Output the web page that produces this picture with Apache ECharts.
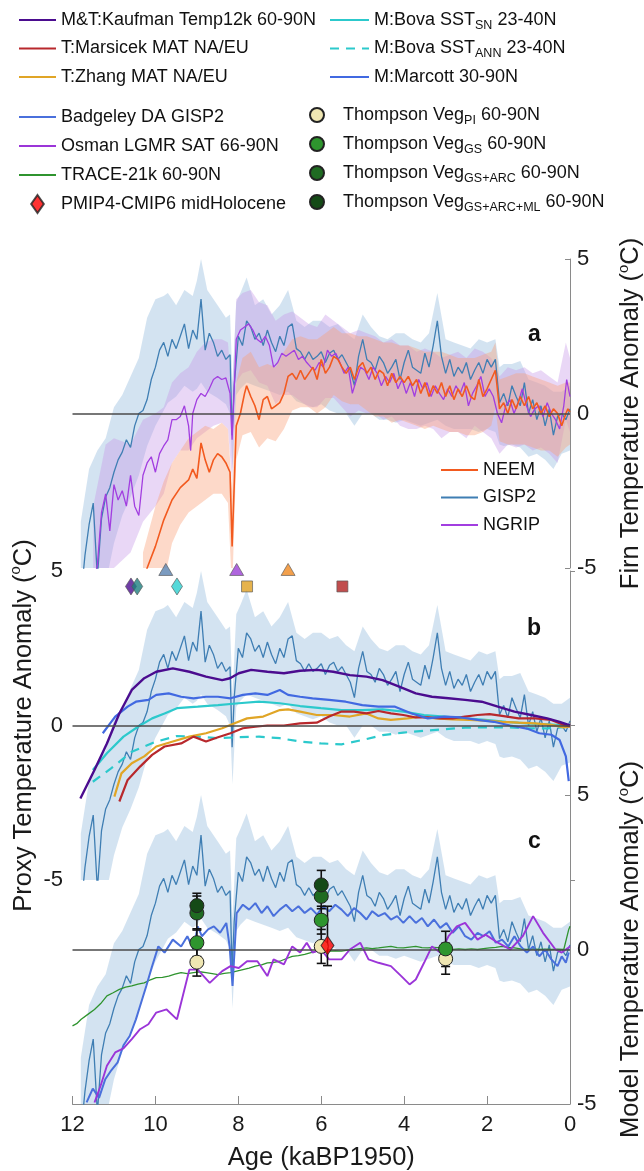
<!DOCTYPE html>
<html>
<head>
<meta charset="utf-8">
<script src="https://cdn.jsdelivr.net/npm/echarts@6/dist/echarts.min.js"></script>
<style>
  html, body { margin: 0; padding: 0; background: #ffffff; }
  #chart { width: 644px; height: 1171px; }
</style>
</head>
<body>
<div id="chart"></div>
<script>
// ---------- Ice-core firn temperature records, [age ka BP, anomaly degC] ----------
const gisp2 = [[11.8,-6.0],[11.7,-4.6],[11.6,-3.6],[11.5,-2.9],[11.4,-5.3],[11.3,-3.4],[11.2,-2.7],[11.1,-2.4],[11.0,-1.9],[10.9,-1.5],[10.8,-1.25],[10.7,-0.85],[10.6,-1.1],[10.5,-0.4],[10.4,0.0],[10.3,0.1],[10.2,0.45],[10.1,1.1],[10.0,1.5],[9.9,2.05],[9.8,2.3],[9.7,1.85],[9.6,2.4],[9.5,2.1],[9.4,2.5],[9.3,2.9],[9.2,2.1],[9.1,2.7],[9.0,2.4],[8.9,3.7],[8.8,2.05],[8.7,2.6],[8.6,2.3],[8.5,1.85],[8.4,2.05],[8.3,1.75],[8.2,1.9],[8.15,-0.7],[8.1,0.9],[8.0,2.5],[7.9,2.2],[7.8,3.0],[7.7,2.8],[7.6,2.4],[7.5,2.6],[7.4,2.2],[7.3,2.7],[7.2,2.3],[7.1,2.0],[7.0,2.5],[6.9,2.2],[6.8,2.8],[6.7,2.9],[6.6,2.1],[6.5,2.0],[6.4,1.75],[6.3,2.0],[6.2,1.75],[6.1,1.85],[6.0,2.0],[5.9,1.65],[5.8,1.95],[5.7,2.05],[5.6,1.75],[5.5,1.9],[5.4,1.65],[5.3,1.4],[5.2,0.9],[5.1,1.85],[5.0,2.4],[4.9,1.75],[4.8,1.65],[4.7,1.4],[4.6,1.85],[4.5,1.65],[4.4,1.3],[4.3,1.5],[4.2,1.75],[4.1,1.1],[4.0,1.65],[3.9,2.05],[3.8,1.5],[3.7,1.4],[3.6,1.3],[3.5,1.95],[3.4,1.5],[3.3,2.2],[3.2,3.0],[3.1,1.85],[3.0,1.3],[2.9,1.75],[2.8,1.2],[2.7,1.5],[2.6,1.3],[2.5,1.65],[2.4,1.1],[2.3,1.4],[2.2,1.65],[2.1,1.3],[2.0,1.75],[1.9,1.5],[1.8,1.75],[1.7,0.35],[1.6,0.65],[1.5,0.25],[1.4,0.9],[1.3,0.55],[1.2,0.25],[1.1,1.0],[1.0,0.0],[0.9,0.45],[0.8,-0.2],[0.7,0.25],[0.6,-0.4],[0.5,0.15],[0.4,-0.7],[0.3,-0.1],[0.2,0.0],[0.1,-0.2],[0.0,0.15]];

const neem = [[10.3,-5.6],[10.2,-5.0],[10.0,-4.3],[9.8,-3.45],[9.6,-2.8],[9.4,-2.4],[9.2,-2.15],[9.1,-1.8],[9.0,-2.1],[8.9,-0.95],[8.8,-1.5],[8.7,-1.9],[8.6,-1.5],[8.5,-1.3],[8.4,-1.4],[8.3,-1.6],[8.2,-1.9],[8.15,-4.3],[8.05,-0.4],[7.95,0.0],[7.85,0.65],[7.8,0.9],[7.7,0.55],[7.6,0.25],[7.5,-0.2],[7.4,0.45],[7.3,0.55],[7.2,0.15],[7.1,0.25],[7.0,0.35],[6.9,0.65],[6.8,1.2],[6.7,1.3],[6.6,1.1],[6.5,1.4],[6.4,1.1],[6.3,1.3],[6.2,1.5],[6.1,1.1],[6.0,1.75],[5.9,1.3],[5.8,1.5],[5.7,1.85],[5.6,1.75],[5.5,1.5],[5.4,1.3],[5.3,1.5],[5.2,1.1],[5.1,1.5],[5.0,1.65],[4.9,1.3],[4.8,1.5],[4.7,1.1],[4.6,1.4],[4.5,1.3],[4.4,0.9],[4.3,1.3],[4.2,1.0],[4.1,1.2],[4.0,1.0],[3.9,1.2],[3.8,0.9],[3.7,1.1],[3.6,0.65],[3.5,1.0],[3.4,0.55],[3.3,0.9],[3.2,0.65],[3.1,1.0],[3.0,0.55],[2.9,0.9],[2.8,0.45],[2.7,0.8],[2.6,0.55],[2.5,0.9],[2.4,0.55],[2.3,0.45],[2.2,1.1],[2.1,0.55],[2.0,0.8],[1.9,1.1],[1.8,1.4],[1.7,0.15],[1.6,0.35],[1.5,0.0],[1.4,0.45],[1.3,0.15],[1.2,0.55],[1.1,0.25],[1.0,0.55],[0.9,0.15],[0.8,0.35],[0.7,0.0],[0.6,0.25],[0.5,-0.1],[0.4,0.15],[0.3,0.0],[0.2,-0.4],[0.1,0.0],[0.05,0.15],[0.0,0.05]];

const ngrip = [[11.5,-5.5],[11.4,-4.9],[11.3,-3.2],[11.2,-2.6],[11.1,-3.8],[11.0,-2.3],[10.9,-2.8],[10.8,-2.5],[10.7,-3.0],[10.6,-2.0],[10.5,-3.0],[10.4,-3.3],[10.3,-2.0],[10.2,-1.6],[10.1,-1.4],[10.0,-1.9],[9.9,-1.3],[9.8,-1.05],[9.7,-0.85],[9.6,-0.2],[9.5,-0.2],[9.4,-0.1],[9.3,0.25],[9.2,-0.4],[9.15,-1.2],[9.1,0.0],[9.0,0.45],[8.9,0.65],[8.8,0.55],[8.7,0.8],[8.6,1.1],[8.5,1.2],[8.4,1.1],[8.3,1.15],[8.2,0.65],[8.15,-0.85],[8.05,2.4],[7.95,2.7],[7.85,2.8],[7.75,2.9],[7.65,2.7],[7.55,2.4],[7.45,2.3],[7.35,2.5],[7.25,2.2],[7.15,1.5],[7.05,1.65],[6.95,1.95],[6.85,1.85],[6.75,1.95],[6.65,2.05],[6.55,1.75],[6.45,1.85],[6.35,1.65],[6.25,1.5],[6.15,1.4],[6.05,1.65],[5.95,1.5],[5.85,2.05],[5.75,1.85],[5.65,1.95],[5.55,1.65],[5.45,1.3],[5.35,1.5],[5.25,0.65],[5.15,1.1],[5.05,1.5],[4.95,1.4],[4.85,1.1],[4.75,1.5],[4.65,1.3],[4.55,0.9],[4.45,1.2],[4.35,1.0],[4.25,1.3],[4.15,0.8],[4.05,1.1],[3.95,0.65],[3.85,1.0],[3.75,0.55],[3.65,1.1],[3.55,0.8],[3.45,1.0],[3.35,0.55],[3.25,0.9],[3.15,0.65],[3.05,0.45],[2.95,0.8],[2.85,0.55],[2.75,0.9],[2.65,0.65],[2.55,1.0],[2.45,0.25],[2.35,0.65],[2.25,0.9],[2.15,1.2],[2.05,0.55],[1.95,0.8],[1.85,0.55],[1.75,0.0],[1.65,-0.3],[1.55,0.25],[1.45,0.45],[1.35,0.0],[1.25,0.35],[1.15,0.8],[1.05,0.25],[0.95,-0.1],[0.85,0.15],[0.75,0.25],[0.65,-0.1],[0.55,0.35],[0.45,0.0],[0.35,-0.2],[0.25,-0.5],[0.15,0.25],[0.08,1.1],[0.0,0.55]];

// uncertainty envelopes, [age, upper, lower]
const gisp2Band = [[11.8,-3.5,-6],[11.6,-1.8,-6],[11.4,-1.2,-6],[11.2,-0.8,-5.5],[11.0,0.2,-4.2],[10.8,0.6,-3.3],[10.6,1.2,-2.7],[10.4,1.8,-2.0],[10.2,3.1,-1.05],[10.0,3.7,-0.4],[9.8,3.8,0.1],[9.7,3.9,0.35],[9.5,3.5,0.55],[9.3,4.0,0.9],[9.1,3.8,0.7],[9.0,4.3,0.8],[8.9,5.0,1.0],[8.75,4.0,0.7],[8.5,3.5,0.5],[8.3,3.1,0.3],[8.2,3.2,0.0],[8.14,1.0,-1.9],[8.05,3.6,0.6],[7.95,3.9,0.8],[7.8,4.4,1.0],[7.6,3.5,0.9],[7.4,3.7,0.8],[7.2,3.2,0.7],[7.0,3.5,0.6],[6.8,4.0,0.7],[6.6,3.0,0.4],[6.4,2.8,0.3],[6.2,3.0,0.2],[6.0,3.0,0.3],[5.8,2.8,0.1],[5.6,2.9,0.0],[5.4,2.6,0.0],[5.2,2.4,-0.4],[5.0,3.2,0.0],[4.8,2.8,0.0],[4.6,2.5,-0.2],[4.4,2.4,-0.2],[4.2,2.6,-0.3],[4.0,2.6,-0.2],[3.8,2.4,-0.3],[3.6,2.3,-0.4],[3.4,2.6,-0.3],[3.2,3.9,-0.2],[3.0,2.4,-0.4],[2.8,2.3,-0.5],[2.6,2.2,-0.5],[2.4,2.1,-0.5],[2.2,2.4,-0.6],[2.0,2.3,-0.5],[1.8,2.4,-0.6],[1.7,1.5,-1.0],[1.6,1.6,-1.05],[1.4,1.6,-1.0],[1.2,1.7,-1.1],[1.0,1.1,-1.4],[0.8,1.0,-1.3],[0.6,0.9,-1.5],[0.4,0.7,-1.8],[0.2,0.7,-1.3],[0.0,0.9,-1.2]];

const neemBand = [[10.3,-4.5,-6],[10.0,-3.0,-6],[9.8,-2.2,-5.5],[9.6,-1.6,-4.2],[9.4,-1.2,-3.6],[9.2,-0.8,-3.2],[9.0,-0.6,-3.0],[8.8,-0.4,-2.8],[8.6,-0.5,-2.6],[8.4,-0.3,-2.6],[8.25,-0.5,-2.9],[8.15,-2.5,-5.8],[8.05,1.0,-1.5],[7.9,1.8,-0.7],[7.7,2.0,-0.6],[7.5,1.5,-1.1],[7.3,1.6,-0.8],[7.1,1.5,-0.9],[6.9,2.0,-0.5],[6.7,2.4,0.1],[6.5,2.5,0.2],[6.3,2.4,0.2],[6.1,2.4,0.0],[5.9,2.6,0.2],[5.7,2.8,0.6],[5.5,2.6,0.4],[5.3,2.6,0.3],[5.1,2.5,0.3],[4.9,2.5,0.1],[4.7,2.4,-0.1],[4.5,2.3,-0.1],[4.3,2.3,-0.3],[4.1,2.2,-0.2],[3.9,2.2,-0.3],[3.7,2.1,-0.4],[3.5,2.0,-0.5],[3.3,2.0,-0.4],[3.1,2.0,-0.5],[2.9,1.9,-0.6],[2.7,1.8,-0.6],[2.5,1.8,-0.7],[2.3,1.8,-0.7],[2.1,1.9,-0.6],[1.9,2.0,-0.4],[1.8,2.3,0.2],[1.7,1.1,-0.9],[1.5,1.2,-1.0],[1.3,1.3,-1.0],[1.1,1.3,-1.0],[0.9,1.2,-1.1],[0.7,1.1,-1.2],[0.5,1.0,-1.2],[0.3,0.9,-1.4],[0.1,1.0,-1.1],[0.0,1.0,-1.0]];

const ngripBand = [[11.5,-3.0,-6],[11.2,-1.0,-5.5],[11.0,-0.8,-5.0],[10.6,-1.0,-4.5],[10.3,-0.2,-3.5],[10.0,0.0,-3.0],[9.8,0.2,-2.6],[9.6,1.0,-1.6],[9.4,1.3,-1.2],[9.2,1.5,-1.2],[9.0,2.0,-0.8],[8.8,2.3,-0.6],[8.6,2.4,-0.4],[8.4,2.4,-0.3],[8.25,2.3,-0.5],[8.15,0.5,-2.2],[8.05,3.7,1.0],[7.9,3.9,1.3],[7.7,4.0,1.4],[7.5,3.6,1.0],[7.3,3.5,0.9],[7.1,3.0,0.3],[6.9,3.2,0.6],[6.7,3.3,0.6],[6.5,3.1,0.4],[6.3,2.9,0.2],[6.1,2.8,0.2],[5.9,3.2,0.5],[5.7,3.0,0.5],[5.5,2.8,0.2],[5.3,2.6,-0.1],[5.1,2.7,0.1],[4.9,2.6,0.0],[4.7,2.5,0.0],[4.5,2.3,-0.2],[4.3,2.4,-0.1],[4.1,2.2,-0.4],[3.9,2.2,-0.5],[3.7,2.0,-0.5],[3.5,2.1,-0.4],[3.3,2.0,-0.5],[3.1,1.8,-0.8],[2.9,1.9,-0.6],[2.7,2.0,-0.6],[2.5,1.8,-0.8],[2.3,2.1,-0.4],[2.1,2.0,-0.6],[1.9,1.8,-0.8],[1.7,1.2,-1.3],[1.5,1.5,-1.0],[1.3,1.4,-1.1],[1.1,1.5,-1.0],[0.9,1.3,-1.2],[0.7,1.4,-1.1],[0.5,1.2,-1.3],[0.3,1.0,-1.6],[0.1,2.3,-0.2],[0.0,1.8,-0.6]];

// ---------- Proxy stacks (panel b) ----------
const kaufman = [[11.81,-2.36],[11.47,-1.44],[11.17,-0.58],[10.87,0.39],[10.57,1.15],[10.27,1.53],[9.98,1.74],[9.58,1.85],[9.18,1.74],[8.78,1.58],[8.39,1.47],[8.2,1.53],[7.99,1.69],[7.69,1.8],[7.3,1.74],[6.9,1.69],[6.51,1.77],[6.1,1.8],[5.71,1.74],[5.31,1.63],[4.91,1.58],[4.52,1.47],[4.12,1.26],[3.72,1.04],[3.33,0.93],[2.93,0.88],[2.53,0.83],[2.13,0.77],[1.74,0.61],[1.34,0.45],[0.94,0.34],[0.55,0.23],[0.25,0.12],[0.0,0.0]];
const marcott = [[11.27,-0.25],[10.97,0.29],[10.67,0.61],[10.47,0.77],[10.17,0.83],[9.98,0.99],[9.68,1.04],[9.38,0.93],[9.08,0.88],[8.78,0.93],[8.49,0.93],[8.19,0.88],[7.89,0.99],[7.59,1.04],[7.3,0.99],[7.0,1.15],[6.8,0.99],[6.51,0.93],[6.21,0.88],[5.81,0.83],[5.41,0.77],[5.01,0.66],[4.62,0.61],[4.22,0.61],[3.82,0.39],[3.43,0.23],[3.03,0.29],[2.63,0.26],[2.23,0.18],[1.84,0.12],[1.44,0.0],[1.04,-0.1],[0.74,-0.25],[0.45,-0.3],[0.25,-0.47],[0.1,-1.0],[0.03,-1.8]];
const bovaSN = [[11.51,-1.44],[11.17,-0.9],[10.77,-0.36],[10.42,-0.04],[10.08,0.23],[9.78,0.39],[9.48,0.56],[8.98,0.61],[8.49,0.66],[7.99,0.72],[7.5,0.77],[7.0,0.72],[6.51,0.63],[6.01,0.56],[5.51,0.5],[5.01,0.5],[4.52,0.52],[4.02,0.45],[3.52,0.34],[3.03,0.29],[2.53,0.23],[2.04,0.18],[1.54,0.12],[1.04,0.07],[0.55,0.04],[0.0,0.0]];
const bovaANN = [[11.51,-1.82],[11.07,-1.39],[10.57,-0.85],[9.98,-0.52],[9.48,-0.34],[8.98,-0.36],[8.49,-0.41],[7.99,-0.38],[7.5,-0.36],[7.0,-0.41],[6.51,-0.52],[6.01,-0.58],[5.51,-0.61],[5.01,-0.47],[4.52,-0.31],[4.02,-0.23],[3.52,-0.17],[3.03,-0.12],[2.53,-0.07],[2.04,-0.06],[1.54,-0.06],[1.04,-0.09],[0.55,-0.09],[0.0,-0.04]];
const zhang = [[10.99,-2.3],[10.82,-1.55],[10.57,-1.22],[10.27,-1.0],[9.98,-0.68],[9.58,-0.52],[9.18,-0.36],[8.78,-0.25],[8.39,-0.09],[8.09,0.07],[7.79,0.23],[7.4,0.29],[7.0,0.5],[6.8,0.52],[6.51,0.45],[6.11,0.34],[5.71,0.34],[5.31,0.29],[4.91,0.39],[4.62,0.23],[4.32,0.18],[3.92,0.23],[3.62,0.29],[3.23,0.23],[2.83,0.2],[2.43,0.18],[2.04,0.16],[1.64,0.12],[1.24,0.09],[0.84,0.07],[0.45,0.02],[0.15,-0.06],[0.0,-0.03]];
const marsicek = [[10.87,-2.46],[10.67,-1.76],[10.37,-1.33],[10.08,-0.95],[9.78,-0.68],[9.38,-0.58],[9.08,-0.36],[8.78,-0.52],[8.49,-0.38],[8.19,-0.25],[7.89,-0.09],[7.59,-0.04],[7.3,0.0],[6.9,0.0],[6.51,0.07],[6.11,0.09],[5.81,0.29],[5.51,0.45],[5.21,0.45],[4.91,0.39],[4.62,0.47],[4.32,0.39],[4.02,0.34],[3.72,0.26],[3.43,0.26],[3.13,0.23],[2.83,0.23],[2.53,0.29],[2.23,0.34],[1.94,0.37],[1.64,0.31],[1.24,0.23],[0.84,0.23],[0.45,0.18],[0.15,0.02],[0.0,-0.03]];

// timing of peak warmth for each record: [age, level, symbol, colour]
const peakMarks = [
  [10.59, 4.5, 'diamond', '#4b0c8f'],
  [10.44, 4.5, 'diamond', '#1d8080'],
  [9.48, 4.5, 'diamond', '#2ccfd0'],
  [9.75, 5.05, 'triangle', '#5a82b0'],
  [8.04, 5.05, 'triangle', '#9b3fd6'],
  [6.80, 5.05, 'triangle', '#f0881f'],
  [7.79, 4.5, 'rect', '#e0a020'],
  [5.49, 4.5, 'rect', '#b22222']
];

// ---------- Reconstructions and models (panel c) ----------
const badgeley = [[11.66,-4.95],[11.51,-4.5],[11.36,-4.8],[11.21,-4.2],[11.06,-3.9],[10.91,-3.65],[10.77,-3.1],[10.62,-2.8],[10.47,-2.26],[10.37,-1.83],[10.22,-1.18],[10.08,-0.54],[9.93,0.1],[9.78,-0.1],[9.58,0.32],[9.38,0.1],[9.23,0.43],[9.08,0.0],[8.98,0.75],[8.88,0.43],[8.73,0.65],[8.59,0.75],[8.44,0.54],[8.29,0.86],[8.21,0.1],[8.14,-1.18],[8.04,1.18],[7.89,1.45],[7.74,1.29],[7.59,1.5],[7.44,1.18],[7.3,1.4],[7.15,1.08],[7.0,1.29],[6.85,1.45],[6.7,1.24],[6.55,1.4],[6.4,1.18],[6.25,1.34],[6.1,1.13],[5.96,1.4],[5.81,1.24],[5.66,1.45],[5.51,1.29],[5.36,1.08],[5.21,1.34],[5.06,1.18],[4.91,0.97],[4.77,1.24],[4.62,1.08],[4.47,1.18],[4.32,0.97],[4.17,1.08],[4.02,0.86],[3.87,1.08],[3.72,0.86],[3.57,1.02],[3.43,0.75],[3.28,0.97],[3.13,0.7],[2.98,0.86],[2.83,0.54],[2.68,0.75],[2.53,0.43],[2.38,0.32],[2.23,0.54],[2.09,0.43],[1.94,0.59],[1.79,0.22],[1.64,0.32],[1.49,0.1],[1.34,0.43],[1.19,0.1],[1.04,-0.1],[0.89,0.1],[0.74,-0.22],[0.6,0.0],[0.45,-0.32],[0.3,-0.54],[0.2,-0.22],[0.1,-0.43],[0.03,-0.1]];
const osman = [[11.47,-4.95],[11.32,-4.4],[11.17,-3.76],[10.97,-3.33],[10.77,-3.2],[10.57,-2.9],[10.37,-2.58],[10.17,-2.42],[9.98,-2.04],[9.73,-1.94],[9.48,-2.26],[9.18,-0.65],[8.98,-0.65],[8.69,-1.08],[8.39,-0.7],[8.19,-0.54],[7.99,-0.6],[7.79,-0.38],[7.54,-0.38],[7.3,-0.86],[7.15,-0.32],[6.9,-0.48],[6.7,0.1],[6.51,-0.1],[6.35,0.22],[6.21,-0.1],[6.01,0.0],[5.81,-0.32],[5.51,-0.32],[5.31,0.0],[5.06,0.22],[4.86,-0.32],[4.62,-0.43],[4.32,-0.54],[4.07,-0.86],[3.87,-1.13],[3.72,-0.97],[3.52,-0.43],[3.33,0.1],[3.13,-0.1],[2.93,0.43],[2.73,0.75],[2.53,0.86],[2.23,0.32],[2.04,0.48],[1.74,0.22],[1.44,0.0],[1.14,0.43],[0.89,1.08],[0.65,0.54],[0.35,0.0],[0.2,-0.1],[0.0,0.1]];
const trace = [[12.0,-2.47],[11.9,-2.4],[11.79,-2.26],[11.63,-2.1],[11.47,-1.94],[11.32,-1.75],[11.17,-1.5],[11.02,-1.4],[10.87,-1.29],[10.72,-1.22],[10.57,-1.18],[10.42,-1.12],[10.27,-1.08],[10.12,-0.98],[9.98,-0.91],[9.83,-0.9],[9.68,-0.86],[9.53,-0.8],[9.38,-0.75],[9.23,-0.78],[9.08,-0.75],[8.93,-0.72],[8.78,-0.75],[8.63,-0.78],[8.49,-0.81],[8.34,-0.77],[8.19,-0.75],[8.04,-0.7],[7.89,-0.65],[7.74,-0.6],[7.59,-0.54],[7.44,-0.5],[7.3,-0.43],[7.15,-0.42],[7.0,-0.38],[6.85,-0.3],[6.7,-0.22],[6.55,-0.2],[6.4,-0.16],[6.25,-0.1],[6.1,-0.05],[5.96,-0.06],[5.81,-0.05],[5.66,-0.04],[5.51,-0.05],[5.36,-0.02],[5.21,0.0],[5.06,0.03],[4.91,0.05],[4.77,0.03],[4.62,0.05],[4.47,0.08],[4.32,0.1],[4.17,0.06],[4.02,0.05],[3.87,0.08],[3.72,0.1],[3.57,0.06],[3.43,0.05],[3.28,0.07],[3.13,0.05],[2.98,0.03],[2.83,0.0],[2.68,0.02],[2.53,0.0],[2.38,0.02],[2.23,0.0],[2.09,0.03],[1.94,0.05],[1.79,0.07],[1.64,0.1],[1.49,0.07],[1.34,0.05],[1.19,0.02],[1.04,0.0],[0.89,0.02],[0.74,0.0],[0.6,0.01],[0.45,0.0],[0.3,0.01],[0.15,0.0],[0.03,0.65],[0.0,0.75]];

// Thompson vegetation-feedback experiments at 9, 6 and 3 ka: [age, value, half-range]
const vegPI = [[9, -0.41, 0.45], [6, 0.1, 0.55], [3, -0.3, 0.5]];
const vegGS = [[9, 0.22, 0.45], [6, 0.95, 0.45], [3, 0.02, 0.57]];
const vegGSARC = [[9, 1.18, 0.55], [6, 1.72, 0.4]];
const vegGSARCML = [[9, 1.42, 0.4], [6, 2.09, 0.47]];
// PMIP4-CMIP6 midHolocene ensemble: [age, mean, min, max]
const pmip = [[5.85, 0.13, -0.52, 1.4]];

// ---------- Drawing ----------
const FONT = '"Liberation Sans", Arial, Helvetica, sans-serif';
const AXIS_GREY = '#8a8a8a';
const PANEL_TOPS = [259, 571, 795];

const chart = echarts.init(document.getElementById('chart'), null, { renderer: 'canvas' });

function line(name, data, panel, color, width, extra) {
  return Object.assign({
    name: name, type: 'line', data: data,
    xAxisIndex: panel, yAxisIndex: panel,
    symbol: 'none', showSymbol: false, silent: true, z: 3,
    lineStyle: { color: color, width: width },
    itemStyle: { color: color }
  }, extra || {});
}

function band(rows, panel, fill) {
  return {
    type: 'custom', xAxisIndex: panel, yAxisIndex: panel, silent: true, z: 1, clip: true,
    data: [[rows[0][0], rows[0][1]]],
    renderItem: function (params, api) {
      const pts = [];
      for (let i = 0; i < rows.length; i++) pts.push(api.coord([rows[i][0], rows[i][1]]));
      for (let i = rows.length - 1; i >= 0; i--) pts.push(api.coord([rows[i][0], rows[i][2]]));
      return { type: 'polygon', shape: { points: pts }, style: { fill: fill, stroke: null } };
    }
  };
}

function zeroLine(panel) {
  return {
    type: 'line', data: [], xAxisIndex: panel, yAxisIndex: panel, silent: true, z: 2,
    markLine: {
      silent: true, symbol: 'none', animation: false,
      label: { show: false },
      lineStyle: { color: '#4a4a4a', width: 1.6, type: 'solid' },
      data: [{ yAxis: 0 }]
    }
  };
}

function vegDots(name, rows, color) {
  return {
    name: name, type: 'scatter', xAxisIndex: 2, yAxisIndex: 2, z: 6, silent: true,
    symbol: 'circle', symbolSize: 14,
    data: rows.map(r => [r[0], r[1]]),
    itemStyle: { color: color, borderColor: '#222', borderWidth: 1, opacity: 1 }
  };
}

function errorBars(rows) {
  return {
    type: 'custom', xAxisIndex: 2, yAxisIndex: 2, z: 5, silent: true,
    data: rows,
    renderItem: function (params, api) {
      const x = api.value(0);
      const top = api.coord([x, api.value(2)]);
      const bot = api.coord([x, api.value(1)]);
      const w = 4.5;
      const st = { stroke: '#111', lineWidth: 1.6 };
      return { type: 'group', children: [
        { type: 'line', shape: { x1: top[0], y1: top[1], x2: bot[0], y2: bot[1] }, style: st },
        { type: 'line', shape: { x1: top[0] - w, y1: top[1], x2: top[0] + w, y2: top[1] }, style: st },
        { type: 'line', shape: { x1: bot[0] - w, y1: bot[1], x2: bot[0] + w, y2: bot[1] }, style: st }
      ] };
    }
  };
}

const vegBarRows = [].concat(
  vegPI, vegGS, vegGSARC, vegGSARCML
).map(r => [r[0], r[1] - r[2], r[1] + r[2]]).concat(pmip.map(r => [r[0], r[2], r[3]]));

const tickFont = { fontFamily: FONT, fontSize: 22, color: '#1a1a1a' };
const nameFont = {
  fontFamily: FONT, fontSize: 25.5, color: '#1a1a1a', lineHeight: 30,
  rich: { sup: { fontFamily: FONT, fontSize: 15, lineHeight: 15, verticalAlign: 'top', color: '#1a1a1a' } }
};

function yAxis(panel, side, name, labelMargin, nameGap) {
  return {
    gridIndex: panel, type: 'value', min: -5, max: 5, interval: 5, position: side,
    axisLine: { show: true, lineStyle: { color: AXIS_GREY, width: 1 } },
    axisTick: { show: true, inside: true, length: 5, lineStyle: { color: AXIS_GREY, width: 1 } },
    axisLabel: Object.assign({ margin: labelMargin }, tickFont),
    splitLine: { show: false },
    name: name, nameLocation: 'middle', nameGap: nameGap, nameMoveOverlap: false,
    nameTextStyle: nameFont
  };
}

function xAxis(panel, visible) {
  return {
    gridIndex: panel, type: 'value', min: 0, max: 12, interval: 2, inverse: true,
    show: visible,
    axisLine: { show: true, onZero: false, lineStyle: { color: AXIS_GREY, width: 1 } },
    axisTick: { show: true, inside: true, length: 8, lineStyle: { color: AXIS_GREY, width: 1 } },
    axisLabel: Object.assign({ margin: 10 }, tickFont),
    splitLine: { show: false },
    name: 'Age (kaBP1950)', nameLocation: 'middle', nameGap: 41,
    nameTextStyle: { fontFamily: FONT, fontSize: 25.5, color: '#1a1a1a' }
  };
}

const legendRich = {
  n: { fontFamily: FONT, fontSize: 18, lineHeight: 24, color: '#111' },
  s: { fontFamily: FONT, fontSize: 12.5, lineHeight: 12, verticalAlign: 'bottom', color: '#111' }
};
const legendLabels = {
  'M:Bova SST_SN 23-40N': '{n|M:Bova SST}{s|SN}{n| 23-40N}',
  'M:Bova SST_ANN 23-40N': '{n|M:Bova SST}{s|ANN}{n| 23-40N}',
  'Thompson Veg_PI 60-90N': '{n|Thompson Veg}{s|PI}{n| 60-90N}',
  'Thompson Veg_GS 60-90N': '{n|Thompson Veg}{s|GS}{n| 60-90N}',
  'Thompson Veg_GS+ARC 60-90N': '{n|Thompson Veg}{s|GS+ARC}{n| 60-90N}',
  'Thompson Veg_GS+ARC+ML 60-90N': '{n|Thompson Veg}{s|GS+ARC+ML}{n| 60-90N}'
};
const TALL_DIAMOND = 'path://M7,0L14,10L7,20L0,10Z';

// line entries hide the marker that line series put in the middle of their key
function lineKey(name) { return { name: name, itemStyle: { opacity: 0 } }; }

function legend(left, top, items, itemW, itemH, gap, fontSize) {
  const fs = fontSize || 18;
  return {
    left: left, top: top, orient: 'vertical', padding: 0,
    itemWidth: itemW, itemHeight: itemH, itemGap: gap,
    selectedMode: false, symbolKeepAspect: true, data: items,
    textStyle: { fontFamily: FONT, fontSize: fs, lineHeight: 24, color: '#111', rich: legendRich },
    formatter: function (n) { return legendLabels[n] || ('{n|' + n + '}'); }
  };
}

const option = {
  animation: false,
  backgroundColor: '#ffffff',
  grid: PANEL_TOPS.map(t => ({
    left: 72.5, right: 74, top: t, height: 309,
    containLabel: false, outerBoundsMode: 'none'
  })),
  xAxis: [xAxis(0, false), xAxis(1, false), xAxis(2, true)],
  yAxis: [
    yAxis(0, 'right', 'Firn Temperature Anomaly ({sup|o}C)', 7, 46),
    yAxis(1, 'left', 'Proxy Temperature Anomaly ({sup|o}C)', 9.5, 34),
    yAxis(2, 'right', 'Model Temperature Anomaly ({sup|o}C)', 7, 46)
  ],
  legend: [
    legend(18, 8, ['M&T:Kaufman Temp12k 60-90N', 'T:Marsicek MAT NA/EU', 'T:Zhang MAT NA/EU'].map(lineKey), 37, 12, 4.5),
    legend(329, 8, ['M:Bova SST_SN 23-40N', 'M:Bova SST_ANN 23-40N', 'M:Marcott 30-90N'].map(lineKey), 39, 12, 4.5),
    legend(18, 105, ['Badgeley DA GISP2', 'Osman LGMR SAT 66-90N', 'TRACE-21k 60-90N'].map(lineKey)
      .concat([{ name: 'PMIP4-CMIP6 midHolocene', icon: TALL_DIAMOND }]), 37, 18, 5),
    legend(309, 103, ['Thompson Veg_PI 60-90N', 'Thompson Veg_GS 60-90N', 'Thompson Veg_GS+ARC 60-90N', 'Thompson Veg_GS+ARC+ML 60-90N'], 42, 14, 5),
    legend(440, 458, ['NEEM', 'GISP2', 'NGRIP'].map(lineKey), 37, 12, 3.5)
  ],
  graphic: [
    { type: 'text', left: 528, top: 323, style: { text: 'a', font: 'bold 23px ' + FONT, fill: '#111' } },
    { type: 'text', left: 527, top: 617, style: { text: 'b', font: 'bold 23px ' + FONT, fill: '#111' } },
    { type: 'text', left: 528, top: 830, style: { text: 'c', font: 'bold 23px ' + FONT, fill: '#111' } }
  ],
  series: [
    // panel a: firn temperatures
    band(gisp2Band, 0, 'rgba(168,200,228,0.5)'),
    band(ngripBand, 0, 'rgba(196,150,232,0.38)'),
    band(neemBand, 0, 'rgba(250,160,120,0.40)'),
    zeroLine(0),
    line('GISP2', gisp2, 0, '#3f7eb3', 1.3),
    line('NGRIP', ngrip, 0, '#a23ee0', 1.3),
    line('NEEM', neem, 0, '#f25a1f', 1.6),

    // panel b: proxy stacks over GISP2
    band(gisp2Band, 1, 'rgba(168,200,228,0.5)'),
    zeroLine(1),
    line('GISP2', gisp2, 1, '#3f7eb3', 1.3),
    line('M:Bova SST_ANN 23-40N', bovaANN, 1, '#2cc9cc', 2.2, { lineStyle: { color: '#2cc9cc', width: 2.2, type: [9, 7] } }),
    line('M:Bova SST_SN 23-40N', bovaSN, 1, '#2cc9cc', 2.2),
    line('T:Zhang MAT NA/EU', zhang, 1, '#e0a526', 2.2),
    line('T:Marsicek MAT NA/EU', marsicek, 1, '#b8282c', 2.2),
    line('M:Marcott 30-90N', marcott, 1, '#4169e1', 2.2),
    line('M&T:Kaufman Temp12k 60-90N', kaufman, 1, '#4b0c8f', 2.4),
    {
      type: 'scatter', xAxisIndex: 1, yAxisIndex: 1, z: 7, silent: true, clip: false,
      data: peakMarks.map(m => ({
        value: [m[0], m[1]], symbol: m[2],
        symbolSize: m[2] === 'triangle' ? [14, 12] : (m[2] === 'diamond' ? [11, 17] : [11, 11]),
        itemStyle: { color: m[3], borderColor: '#555', borderWidth: 0.8 }
      }))
    },

    // panel c: reconstructions and models
    band(gisp2Band, 2, 'rgba(168,200,228,0.5)'),
    zeroLine(2),
    line('GISP2', gisp2, 2, '#3f7eb3', 1.3),
    line('TRACE-21k 60-90N', trace, 2, '#2f942f', 1.3),
    line('Badgeley DA GISP2', badgeley, 2, '#4a70dc', 2.0),
    line('Osman LGMR SAT 66-90N', osman, 2, '#9b35d8', 1.9),
    errorBars(vegBarRows),
    vegDots('Thompson Veg_PI 60-90N', vegPI, '#efe6b2'),
    vegDots('Thompson Veg_GS 60-90N', vegGS, '#2e952e'),
    vegDots('Thompson Veg_GS+ARC 60-90N', vegGSARC, '#1f6b22'),
    vegDots('Thompson Veg_GS+ARC+ML 60-90N', vegGSARCML, '#154a17'),
    {
      name: 'PMIP4-CMIP6 midHolocene', type: 'scatter', xAxisIndex: 2, yAxisIndex: 2, z: 8, silent: true,
      symbol: 'diamond', symbolSize: [13, 19],
      data: pmip.map(r => [r[0], r[1]]),
      itemStyle: { color: '#ff0000', borderColor: '#222', borderWidth: 1 }
    }
  ]
};

chart.setOption(option);
</script>
</body>
</html>
